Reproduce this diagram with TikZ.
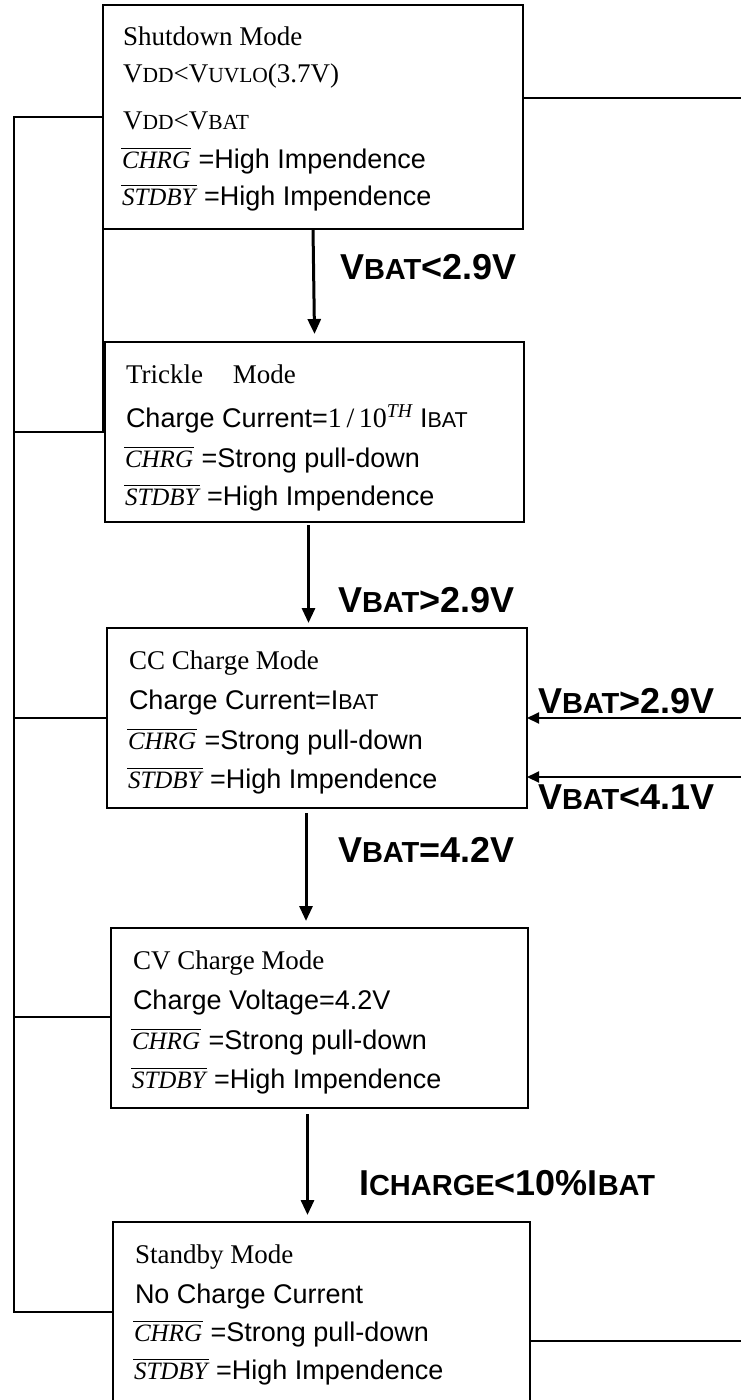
\documentclass[tikz,border=0pt]{standalone}
\usepackage{fontspec}
\setmainfont{Liberation Serif}
\newfontfamily\arialfam{Liberation Sans}
\usetikzlibrary{arrows.meta}
\newcommand\tmf{\rmfamily\upshape\fontsize{27}{32}\selectfont}
\newcommand\arf{\arialfam\upshape\fontsize{27}{32}\selectfont}
\newcommand\tsc[1]{{\fontsize{21.5}{24}\selectfont #1}}
\newcommand\asc[1]{{\fontsize{21.5}{24}\selectfont #1}}
\newcommand\ovl[1]{\leavevmode\vbox{\hrule height 1.1pt\kern 2.5pt\hbox{\kern1pt\rmfamily\fontsize{25}{30}\selectfont\itshape #1\kern1pt}}}
\newcommand\lbf{\arialfam\bfseries\fontsize{36}{40}\selectfont}
\newcommand\lsc[1]{{\fontsize{29}{32}\selectfont #1}}
\begin{document}
\begin{tikzpicture}[x=1pt,y=-1pt,
  modebox/.style={draw, line width=2pt, inner sep=0pt, outer sep=0pt, anchor=north west},
  txt/.style={anchor=base west, inner sep=0pt, outer sep=0pt},
  lbl/.style={anchor=base west, inner sep=0pt, outer sep=0pt, font=\lbf},
  wire/.style={line width=1.4pt},
  rwire/.style={line width=2pt},
  flow/.style={line width=3pt, -{Triangle[length=15pt,width=13pt]}},
  rflow/.style={line width=2pt, -{Triangle[length=12pt,width=11pt]}}]
\useasboundingbox (0,0) rectangle (741,1400);
\fill[white] (0,0) rectangle (741,1400);
% boxes
\node[modebox, minimum width=420pt, minimum height=224pt] (S)  at (103,5) {};
\node[modebox, minimum width=419pt, minimum height=180pt] (T)  at (105,342) {};
\node[modebox, minimum width=420pt, minimum height=180pt] (CC) at (107,628) {};
\node[modebox, minimum width=417pt, minimum height=180pt] (CV) at (111,928) {};
\node[modebox, minimum width=417pt, minimum height=184pt] (SB) at (113,1222) {};
% shutdown text
\node[txt] (s1) at (123,45)  {\tmf Shutdown Mode};
\node[txt] (s2) at (123,82)  {\tmf V\tsc{DD}<V\tsc{UVLO}(3.7V)};
\node[txt] (s3) at (123,129) {\tmf V\tsc{DD}<V\tsc{BAT}};
\node[txt] (s4) at (121,168) {\ovl{CHRG}\arf\ =High Impendence};
\node[txt] (s5) at (121,205) {\ovl{STDBY}\arf\ =High Impendence};
% trickle text
\node[txt] (t1) at (126,383) {\tmf Trickle\hspace{23pt} Mode};
\node[txt] (t2) at (126,427) {\arf Charge Current=\tmf\fontsize{28}{32}\selectfont 1\,/\,10\textsuperscript{\itshape TH}\arf\ I\asc{BAT}};
\node[txt] (t3) at (124,467) {\ovl{CHRG}\arf\ =Strong pull-down};
\node[txt] (t4) at (124,505) {\ovl{STDBY}\arf\ =High Impendence};
% cc text
\node[txt] (c1) at (129,669) {\tmf CC Charge Mode};
\node[txt] (c2) at (129,709) {\arf Charge Current=I\asc{BAT}};
\node[txt] (c3) at (127,749) {\ovl{CHRG}\arf\ =Strong pull-down};
\node[txt] (c4) at (127,788) {\ovl{STDBY}\arf\ =High Impendence};
% cv text
\node[txt] (v1) at (133,969)  {\tmf CV Charge Mode};
\node[txt] (v2) at (133,1009) {\arf Charge Voltage=4.2V};
\node[txt] (v3) at (131,1049) {\ovl{CHRG}\arf\ =Strong pull-down};
\node[txt] (v4) at (131,1088) {\ovl{STDBY}\arf\ =High Impendence};
% standby text
\node[txt] (b1) at (135,1263) {\tmf Standby Mode};
\node[txt] (b2) at (135,1303) {\arf No Charge Current};
\node[txt] (b3) at (133,1341) {\ovl{CHRG}\arf\ =Strong pull-down};
\node[txt] (b4) at (133,1379) {\ovl{STDBY}\arf\ =High Impendence};
% vertical flow arrows
\draw[flow] (S.south) -- ([yshift=8pt]T.north);
\draw[flow] ([xshift=-6pt,yshift=-3pt]T.south) -- ([xshift=-6pt,yshift=5pt]T.south |- CC.north);
\draw[flow] ([xshift=-11pt,yshift=-5pt]CC.south) -- ([xshift=-11pt,yshift=7pt]CC.south |- CV.north);
\draw[flow] ([xshift=-12pt,yshift=-6pt]CV.south) -- ([xshift=-12pt,yshift=7pt]CV.south |- SB.north);
% labels
\node[lbl] (l1) at (340,279)  {V\lsc{BAT}<2.9V};
\node[lbl] (l2) at (338,612)  {V\lsc{BAT}>2.9V};
\node[lbl] (l3) at (338,862)  {V\lsc{BAT}=4.2V};
\node[lbl] (l4) at (359,1195) {I\lsc{CHARGE}<10\%I\lsc{BAT}};
\node[lbl] (r1) at (538,713)  {V\lsc{BAT}>2.9V};
\node[lbl] (r2) at (538,809)  {V\lsc{BAT}<4.1V};
% left bracket lines
\coordinate (LT) at (14,117);
\coordinate (LB) at (14,432);
\coordinate (Lc) at (14,718);
\coordinate (Lv) at (14,1017);
\coordinate (LE) at (14,1312);
\draw[wire] (S.west |- LT) -- (LT) -- (LB) -- (S.west |- LB) -- (S.south west);
\draw[wire] (LB) -- (LE) -- (SB.west |- LE);
\draw[wire] (Lc) -- (CC.west |- Lc);
\draw[wire] (Lv) -- (CV.west |- Lv);
% right lines
\coordinate (R1) at (741,98);
\coordinate (R2) at (741,718);
\coordinate (R3) at (741,777);
\coordinate (R4) at (741,1341);
\draw[rwire] (S.east |- R1) -- (R1);
\draw[rflow] (R2) -- (CC.east |- R2);
\draw[rflow] (R3) -- (CC.east |- R3);
\draw[rwire] (SB.east |- R4) -- (R4);
\end{tikzpicture}
\end{document}
